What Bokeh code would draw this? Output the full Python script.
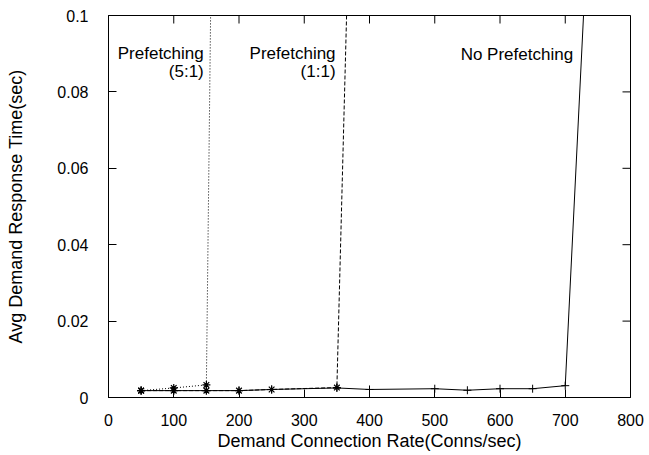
from bokeh.plotting import figure
from bokeh.models import (ColumnDataSource, FixedTicker, Range1d,
                          PrintfTickFormatter, Label)
from bokeh.embed import file_html
from bokeh.resources import INLINE

# Demand connection rate (conns/sec) and average demand response time (sec)
no_pf_rate = [50, 100, 150, 200, 250, 350, 400, 500, 550, 600, 650, 700, 750]
no_pf_time = [0.0018, 0.0018, 0.0018, 0.0018, 0.0021, 0.0025, 0.0021,
              0.0023, 0.0019, 0.0023, 0.0023, 0.0031, 0.176]

pf11_rate = [50, 100, 150, 200, 250, 350, 400]
pf11_time = [0.0018, 0.0018, 0.0018, 0.0018, 0.0021, 0.0026, 0.33]

pf51_rate = [50, 100, 150, 200]
pf51_time = [0.0018, 0.0025, 0.0033, 0.75]

x_ticks = [0, 100, 200, 300, 400, 500, 600, 700, 800]
y_ticks = [0, 0.02, 0.04, 0.06, 0.08, 0.1]

X_MIN, X_MAX = 0, 800
Y_MIN, Y_MAX = 0, 0.1

FONT = "Liberation Sans"

p = figure(width=649, height=455, output_backend="svg", toolbar_location=None,
           x_range=Range1d(X_MIN, X_MAX), y_range=Range1d(Y_MIN, Y_MAX),
           x_axis_label="Demand Connection Rate(Conns/sec)",
           y_axis_label="Avg Demand Response Time(sec)",
           min_border_left=108, min_border_right=19,
           min_border_top=15, min_border_bottom=58)
p.grid.visible = False
p.outline_line_color = "black"
p.outline_line_width = 1
p.background_fill_color = "white"
p.border_fill_color = "white"

for ax, ticks in ((p.xaxis[0], x_ticks), (p.yaxis[0], y_ticks)):
    ax.ticker = FixedTicker(ticks=ticks)
    ax.formatter = PrintfTickFormatter(format="%g")
    ax.major_tick_in = 8
    ax.major_tick_out = 0
    ax.minor_tick_line_color = None
    ax.axis_line_color = "black"
    ax.major_tick_line_color = "black"
    ax.major_label_text_font = FONT
    ax.major_label_text_font_size = "16px"
    ax.major_label_text_color = "black"
    ax.axis_label_text_font = FONT
    ax.axis_label_text_font_size = "18px"
    ax.axis_label_text_font_style = "normal"
    ax.axis_label_text_color = "black"

p.xaxis[0].major_label_standoff = 16
p.xaxis[0].axis_label_standoff = 2
p.yaxis[0].major_label_standoff = 20
p.yaxis[0].axis_label_standoff = 28

# mirrored inward tick marks on the top and right edges (8 px long)
px_x = (X_MAX - X_MIN) / 522.0
px_y = (Y_MAX - Y_MIN) / 382.0
top_ticks = ColumnDataSource(dict(x0=x_ticks, x1=x_ticks,
                                  y0=[Y_MAX] * len(x_ticks),
                                  y1=[Y_MAX - 8 * px_y] * len(x_ticks)))
right_ticks = ColumnDataSource(dict(x0=[X_MAX] * len(y_ticks),
                                    x1=[X_MAX - 8 * px_x] * len(y_ticks),
                                    y0=y_ticks, y1=y_ticks))
for s in (top_ticks, right_ticks):
    p.segment("x0", "y0", "x1", "y1", source=s, line_color="black",
              line_width=1)

src_no = ColumnDataSource(dict(x=no_pf_rate, y=no_pf_time))
src_11 = ColumnDataSource(dict(x=pf11_rate, y=pf11_time))
src_51 = ColumnDataSource(dict(x=pf51_rate, y=pf51_time))

p.line("x", "y", source=src_no, line_color="black", line_width=1)
p.scatter("x", "y", source=src_no, marker="cross", size=8,
          line_color="black", line_width=1)

p.line("x", "y", source=src_11, line_color="black", line_width=1,
       line_dash="4 2")
p.scatter("x", "y", source=src_11, marker="asterisk", size=8,
          line_color="black", line_width=1.2)

p.line("x", "y", source=src_51, line_color="black", line_width=1,
       line_dash="1 2")
p.scatter("x", "y", source=src_51, marker="asterisk", size=8,
          line_color="black", line_width=1.2)

# series names written beside each curve
notes = [("Prefetching", 146, 0.0901), ("(5:1)", 146, 0.0854),
         ("Prefetching", 348, 0.0901), ("(1:1)", 348, 0.0854),
         ("No Prefetching", 712, 0.0898)]
for txt, xv, yv in notes:
    p.add_layout(Label(x=xv, y=yv, text=txt, text_align="right",
                       text_baseline="alphabetic", text_font=FONT,
                       text_font_size="17px", text_color="black"))

open("out.html", "w").write(file_html(p, INLINE))
